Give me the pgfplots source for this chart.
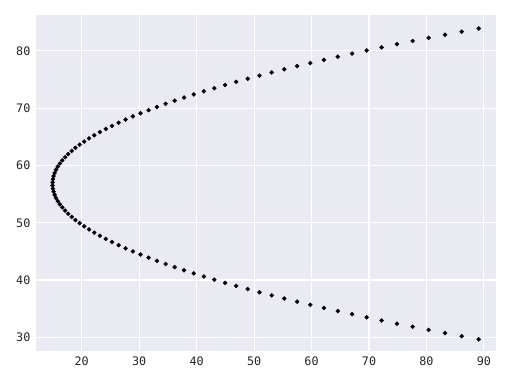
\documentclass[border=0pt]{standalone}
\usepackage{pgfplots}
\pgfplotsset{compat=1.18}
\usepackage{fontspec}
\setmainfont{DejaVu Sans Mono}
\definecolor{bg}{HTML}{EAEAF2}
\definecolor{tk}{HTML}{262626}
\pgfplotstableread{
x y
89.09 29.65
86.13 30.20
83.22 30.75
80.37 31.29
77.59 31.84
74.86 32.39
72.20 32.94
69.60 33.49
67.05 34.03
64.57 34.58
62.15 35.13
59.79 35.68
57.49 36.23
55.25 36.77
53.07 37.32
50.95 37.87
48.89 38.42
46.89 38.97
44.96 39.51
43.08 40.06
41.26 40.61
39.51 41.16
37.81 41.71
36.18 42.25
34.60 42.80
33.09 43.35
31.64 43.90
30.24 44.45
28.91 44.99
27.64 45.54
26.43 46.09
25.28 46.64
24.19 47.19
23.16 47.73
22.19 48.28
21.28 48.83
20.44 49.38
19.65 49.93
18.92 50.47
18.26 51.02
17.65 51.57
17.11 52.12
16.62 52.67
16.20 53.21
15.84 53.76
15.53 54.31
15.29 54.86
15.11 55.41
14.99 55.95
14.93 56.50
14.93 57.05
14.99 57.60
15.11 58.15
15.29 58.69
15.53 59.24
15.84 59.79
16.20 60.34
16.62 60.89
17.11 61.43
17.65 61.98
18.26 62.53
18.92 63.08
19.65 63.63
20.44 64.17
21.28 64.72
22.19 65.27
23.16 65.82
24.19 66.37
25.28 66.91
26.43 67.46
27.64 68.01
28.91 68.56
30.24 69.11
31.64 69.65
33.09 70.20
34.60 70.75
36.18 71.30
37.81 71.85
39.51 72.39
41.26 72.94
43.08 73.49
44.96 74.04
46.89 74.59
48.89 75.13
50.95 75.68
53.07 76.23
55.25 76.78
57.49 77.33
59.79 77.87
62.15 78.42
64.57 78.97
67.05 79.52
69.60 80.07
72.20 80.61
74.86 81.16
77.59 81.71
80.37 82.26
83.22 82.81
86.13 83.35
89.09 83.90
}\pts
\begin{document}
\begin{tikzpicture}
\path (-26.78pt,-24.75pt) rectangle (357.2pt,263.3pt);
\begin{axis}[
  at={(0pt,0pt)}, anchor=south west,
  scale only axis, width=345.2pt, height=251.8pt,
  xmin=12.0, xmax=92.1, ymin=27.6, ymax=86.2,
  axis background/.style={fill=bg},
  axis line style={draw=none},
  grid=major, major grid style={white, line width=0.8pt},
  tick style={draw=none},
  xtick={20,30,...,90}, ytick={30,40,...,80},
  /pgf/number format/assume math mode=true,
  ticklabel style={font=\fontsize{8.8}{10}\selectfont, text=tk},
  xticklabel style={yshift=-1pt},
  yticklabel style={xshift=-0.5pt},
]
\addplot[only marks, mark=*, mark size=1.45pt, black] table[x=x, y=y] {\pts};
\end{axis}
\end{tikzpicture}
\end{document}
